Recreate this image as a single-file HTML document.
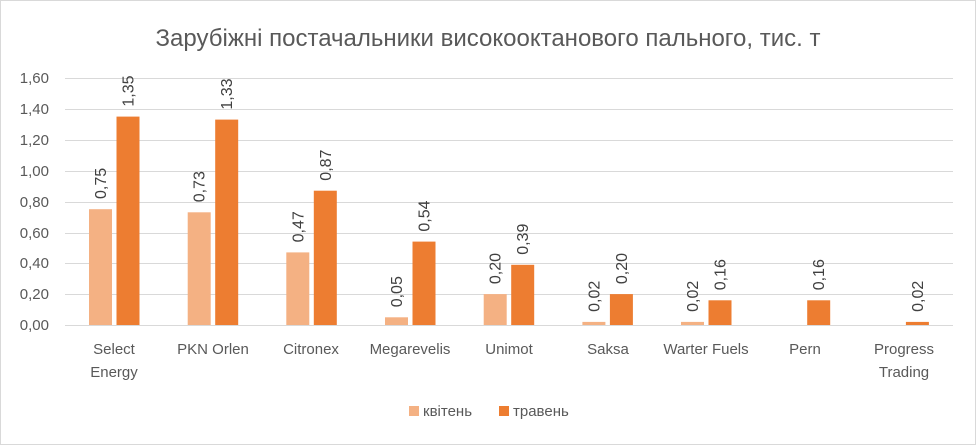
<!DOCTYPE html>
<html><head><meta charset="utf-8"><style>
body{margin:0;background:#fff}
svg{display:block;font-family:"Liberation Sans",sans-serif}
</style></head><body>
<svg width="976" height="445" viewBox="0 0 976 445">
<rect x="0.5" y="0.5" width="975" height="444" fill="#fff" stroke="#d9d9d9"/>
<text x="488" y="46" text-anchor="middle" font-size="24" fill="#595959">Зарубіжні постачальники високооктанового пального, тис. т</text>
<g stroke="#d9d9d9" stroke-width="1">
<line x1="65" x2="953" y1="78.5" y2="78.5"/>
<line x1="65" x2="953" y1="109.5" y2="109.5"/>
<line x1="65" x2="953" y1="140.5" y2="140.5"/>
<line x1="65" x2="953" y1="171.5" y2="171.5"/>
<line x1="65" x2="953" y1="202.5" y2="202.5"/>
<line x1="65" x2="953" y1="233.5" y2="233.5"/>
<line x1="65" x2="953" y1="263.5" y2="263.5"/>
<line x1="65" x2="953" y1="294.5" y2="294.5"/>
<line x1="65" x2="953" y1="325.5" y2="325.5"/>
</g>
<g font-size="15" fill="#595959" text-anchor="end">
<text x="49" y="83">1,60</text><text x="49" y="114">1,40</text><text x="49" y="145">1,20</text>
<text x="49" y="176">1,00</text><text x="49" y="207">0,80</text><text x="49" y="238">0,60</text>
<text x="49" y="268">0,40</text><text x="49" y="299">0,20</text><text x="49" y="330">0,00</text>
</g>
<g fill="#f4b183">
<rect x="89" y="209.2" width="23" height="115.8"/>
<rect x="187.7" y="212.3" width="23" height="112.7"/>
<rect x="286.3" y="252.4" width="23" height="72.6"/>
<rect x="385" y="317.3" width="23" height="7.7"/>
<rect x="483.7" y="294.1" width="23" height="30.9"/>
<rect x="582.4" y="321.9" width="23" height="3.1"/>
<rect x="681" y="321.9" width="23" height="3.1"/>
</g>
<g fill="#ed7d31">
<rect x="116.5" y="116.6" width="23" height="208.4"/>
<rect x="215.2" y="119.6" width="23" height="205.4"/>
<rect x="313.8" y="190.7" width="23" height="134.3"/>
<rect x="412.5" y="241.6" width="23" height="83.4"/>
<rect x="511.2" y="264.8" width="23" height="60.2"/>
<rect x="609.9" y="294.1" width="23" height="30.9"/>
<rect x="708.5" y="300.3" width="23" height="24.7"/>
<rect x="807.2" y="300.3" width="23" height="24.7"/>
<rect x="905.9" y="321.9" width="23" height="3.1"/>
</g>
<g font-size="16" fill="#404040">
<text transform="translate(106,199) rotate(-90)">0,75</text>
<text transform="translate(133.5,106.6) rotate(-90)">1,35</text>
<text transform="translate(204.7,202.3) rotate(-90)">0,73</text>
<text transform="translate(232.2,109.6) rotate(-90)">1,33</text>
<text transform="translate(303.3,242.4) rotate(-90)">0,47</text>
<text transform="translate(330.8,180.7) rotate(-90)">0,87</text>
<text transform="translate(402,307.3) rotate(-90)">0,05</text>
<text transform="translate(429.5,231.6) rotate(-90)">0,54</text>
<text transform="translate(500.7,284.1) rotate(-90)">0,20</text>
<text transform="translate(528.2,254.8) rotate(-90)">0,39</text>
<text transform="translate(599.4,311.9) rotate(-90)">0,02</text>
<text transform="translate(626.9,284.1) rotate(-90)">0,20</text>
<text transform="translate(698,311.9) rotate(-90)">0,02</text>
<text transform="translate(725.5,290.3) rotate(-90)">0,16</text>
<text transform="translate(824.2,290.3) rotate(-90)">0,16</text>
<text transform="translate(922.9,311.9) rotate(-90)">0,02</text>
</g>
<g font-size="15" fill="#595959" text-anchor="middle">
<text x="114" y="354">Select</text><text x="114" y="377">Energy</text>
<text x="213" y="354">PKN Orlen</text>
<text x="311" y="354">Citronex</text>
<text x="410" y="354">Megarevelis</text>
<text x="509" y="354">Unimot</text>
<text x="608" y="354">Saksa</text>
<text x="706" y="354">Warter Fuels</text>
<text x="805" y="354">Pern</text>
<text x="904" y="354">Progress</text><text x="904" y="377">Trading</text>
</g>
<rect x="409" y="406" width="10" height="10" fill="#f4b183"/>
<text x="423" y="416" font-size="15" fill="#595959">квітень</text>
<rect x="499" y="406" width="10" height="10" fill="#ed7d31"/>
<text x="513" y="416" font-size="15" fill="#595959">травень</text>
</svg>
</body></html>
